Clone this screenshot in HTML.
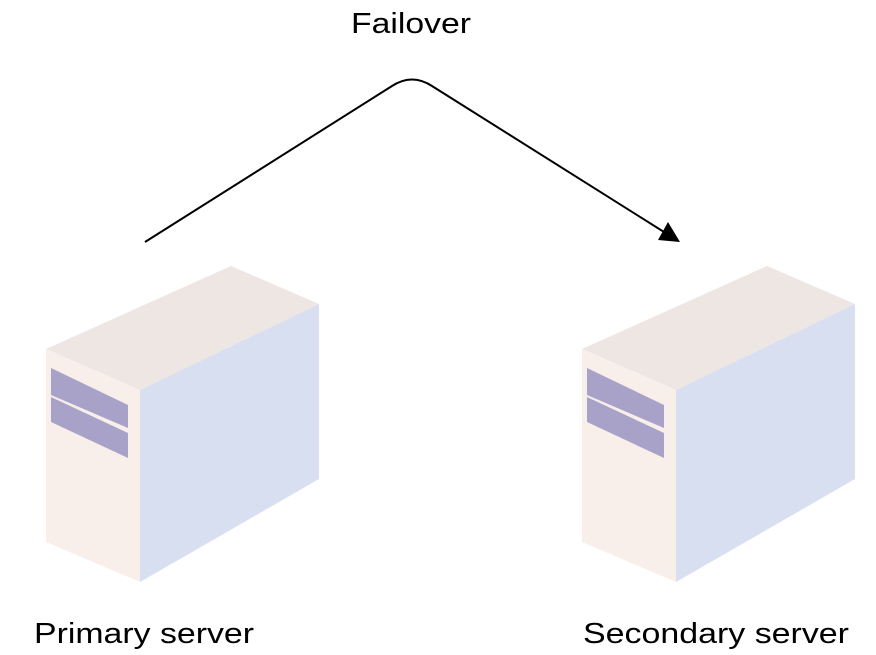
<!DOCTYPE html>
<html><head><meta charset="utf-8"><style>html,body{margin:0;padding:0;background:#fff}svg{display:block}</style></head>
<body>
<svg width="876" height="655" viewBox="0 0 876 655" xmlns="http://www.w3.org/2000/svg" font-family="Liberation Sans, Arial, sans-serif">
<defs>
<g id="srv">
<polygon points="46,349 231,266 319,304 140,390" fill="#ede6e3"/>
<polygon points="46,349 140,390 140,582 46,542" fill="#f8efeb"/>
<polygon points="140,390 319,304 319,479 140,582" fill="#d8dff0"/>
<polygon points="51,368 128,405 128,428 51,395" fill="#a8a2c8"/>
<polygon points="51,397 128,433 128,458 51,422" fill="#a8a2c8"/>
</g>
</defs>
<use href="#srv"/>
<use href="#srv" transform="translate(536,0)"/>
<path d="M145,242 L392,86 Q412,73 432,86 L664,232" fill="none" stroke="#000" stroke-width="2"/>
<polygon points="680,242 658,240 668,222" fill="#000"/>
<text x="411" y="33" font-size="29" text-anchor="middle" textLength="120" lengthAdjust="spacingAndGlyphs">Failover</text>
<text x="34" y="643" font-size="29" textLength="220" lengthAdjust="spacingAndGlyphs">Primary server</text>
<text x="583" y="643" font-size="29" textLength="266" lengthAdjust="spacingAndGlyphs">Secondary server</text>
</svg>
</body></html>
